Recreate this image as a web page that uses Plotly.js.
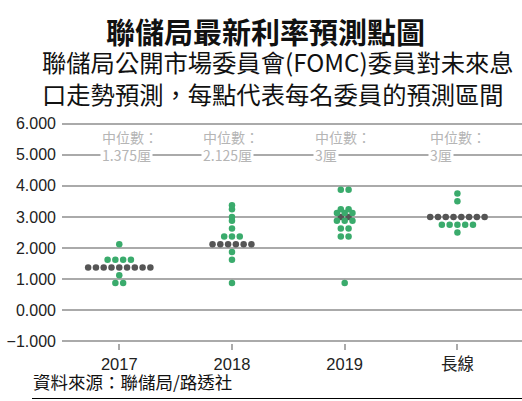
<!DOCTYPE html>
<html>
<head>
<meta charset="utf-8">
<script src="https://cdn.plot.ly/plotly-3.0.1.min.js"></script>
<style>html,body{margin:0;padding:0;background:#fff;}#chart{width:522px;height:401px;}</style>
</head>
<body>
<div id="chart"></div>
<script>
// ---- data ----
const categories = ['2017', '2018', '2019', '長線'];
const dots2017 = [0.875, 0.875, 1.125, 1.375, 1.375, 1.375, 1.375, 1.375, 1.375, 1.375, 1.375, 1.375, 1.625, 1.625, 1.625, 1.625, 2.125];
const dots2018 = [0.875, 1.625, 1.875, 2.125, 2.125, 2.125, 2.125, 2.125, 2.125, 2.375, 2.375, 2.375, 2.625, 2.875, 3.0, 3.25, 3.375];
const dots2019 = [0.875, 2.375, 2.375, 2.625, 2.625, 2.875, 2.875, 2.875, 3.0, 3.0, 3.125, 3.125, 3.125, 3.25, 3.25, 3.875, 3.875];
const dotsLong = [2.5, 2.75, 2.75, 2.75, 2.75, 2.75, 3.0, 3.0, 3.0, 3.0, 3.0, 3.0, 3.0, 3.0, 3.5, 3.75];
const medians = [1.375, 2.125, 3, 3];
const medianLabels = ['1.375厘', '2.125厘', '3厘', '3厘'];
const yTickVals = [-1, 0, 1, 2, 3, 4, 5, 6];

// ---- build beeswarm rows ----
const allDots = [dots2017, dots2018, dots2019, dotsLong];
const SPACING = 0.069; // horizontal gap between dots in category units
const med = {x: [], y: []}, other = {x: [], y: []};
allDots.forEach((vals, ci) => {
  const groups = {};
  vals.forEach(v => { (groups[v] = groups[v] || []).push(v); });
  Object.keys(groups).forEach(k => {
    const g = groups[k];
    const n = g.length;
    g.forEach((v, i) => {
      const target = (v === medians[ci]) ? med : other;
      target.x.push(ci + (i - (n - 1) / 2) * SPACING);
      target.y.push(v);
    });
  });
});

const FONT = 'Liberation Sans, Arial, "Noto Sans CJK TC", sans-serif';
const CJK = '"Noto Sans CJK TC", "Noto Sans CJK SC", sans-serif';

const traces = [
  {type: 'scatter', mode: 'markers', x: med.x, y: med.y, hoverinfo: 'y',
   marker: {color: '#555555', size: 6.5, line: {width: 0}}},
  {type: 'scatter', mode: 'markers', x: other.x, y: other.y, hoverinfo: 'y',
   marker: {color: '#3aab6c', size: 6.5, line: {width: 0}}}
];

// layout helpers: plot area is 62..522 px wide, 122..343 px tall
const PX = px => (px - 62) / 460;
const PY = py => (343 - py) / 221;

const labelX = [-0.171, 0.725, 1.719, 2.739];
const annotations = [];
categories.forEach((c, i) => {
  annotations.push({xref: 'x', yref: 'y', x: labelX[i], y: 5.0, xanchor: 'left', yanchor: 'middle',
    text: medianLabels[i], showarrow: false, bgcolor: '#ffffff', borderpad: 1,
    font: {family: CJK, size: 14, color: '#b5b5b5'}});
});
categories.forEach((c, i) => {
  annotations.push({xref: 'x', yref: 'y', x: labelX[i], y: 5.56, xanchor: 'left', yanchor: 'middle',
    text: '中位數：', showarrow: false, font: {family: CJK, size: 14, color: '#b5b5b5'}});
});
annotations.push({xref: 'paper', yref: 'paper', x: PX(265), y: PY(31), xanchor: 'center', yanchor: 'middle',
  text: '<b>聯儲局最新利率預測點圖</b>', showarrow: false, font: {family: CJK, size: 29, color: '#111'}});
annotations.push({xref: 'paper', yref: 'paper', x: PX(40), y: PY(77.5), xanchor: 'left', yanchor: 'middle', align: 'left',
  text: '聯儲局公開市場委員會(FOMC)委員對未來息<br>口走勢預測，每點代表每名委員的預測區間', showarrow: false,
  font: {family: CJK, size: 24.3, color: '#111'}});
annotations.push({xref: 'paper', yref: 'paper', x: PX(31), y: PY(381), xanchor: 'left', yanchor: 'middle',
  text: '資料來源：聯儲局/路透社', showarrow: false, font: {family: CJK, size: 17.5, color: '#111'}});

const layout = {
  width: 522, height: 401,
  margin: {l: 62, r: 0, t: 122, b: 58, autoexpand: false},
  paper_bgcolor: '#fff', plot_bgcolor: '#fff',
  showlegend: false,
  font: {family: FONT, color: '#222'},
  xaxis: {range: [-0.508, 3.573], tickvals: [0, 1, 2, 3], ticktext: categories,
    showgrid: false, zeroline: false, showline: false,
    ticks: 'outside', ticklen: 6, tickwidth: 2, tickcolor: '#aaaaaa',
    tickfont: {family: FONT + ', ' + CJK, size: 16.5, color: '#222'}, fixedrange: true},
  yaxis: {range: [-1.05, 6.05], tickvals: yTickVals, tickformat: '.3f',
    showgrid: true, gridcolor: '#aaaaaa', gridwidth: 2, zeroline: false, showline: false,
    ticks: '', ticklabelstandoff: 5,
    tickfont: {family: FONT, size: 16, color: '#222'}, fixedrange: true},
  annotations: annotations,
  shapes: [{type: 'line', xref: 'paper', yref: 'paper', x0: PX(32), x1: 1, y0: PY(398.5), y1: PY(398.5),
    line: {color: '#000', width: 1.2}}]
};

Plotly.newPlot('chart', traces, layout, {displayModeBar: false, staticPlot: true});
</script>
</body>
</html>
